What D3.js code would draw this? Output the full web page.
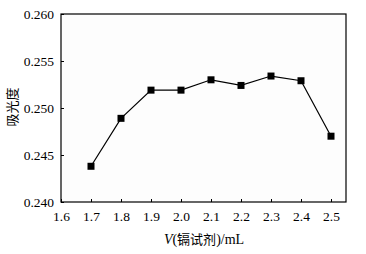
<!DOCTYPE html>
<html>
<head>
<meta charset="utf-8">
<script src="https://cdn.jsdelivr.net/npm/d3@7"></script>
<style>
  body { margin: 0; background: #fff; }
</style>
</head>
<body>
<div id="chart"></div>
<script>
// data
var volumes = [1.7, 1.8, 1.9, 2.0, 2.1, 2.2, 2.3, 2.4, 2.5];
var absorbance = [0.2438, 0.2489, 0.2519, 0.2519, 0.2530, 0.2524, 0.2534, 0.2529, 0.2470];
var xTicks = [1.6, 1.7, 1.8, 1.9, 2.0, 2.1, 2.2, 2.3, 2.4, 2.5];
var yTicks = [0.240, 0.245, 0.250, 0.255, 0.260];

var serif = "'Liberation Serif', 'Times New Roman', serif";
var cjk = "'Noto Sans CJK SC', sans-serif";

var width = 366, height = 254;
var margin = {top: 14, right: 20, bottom: 52, left: 61};
var w = width - margin.left - margin.right,
    h = height - margin.top - margin.bottom;

var svg = d3.select("#chart").append("svg")
  .attr("width", width)
  .attr("height", height);

var g = svg.append("g")
  .attr("transform", "translate(" + margin.left + "," + margin.top + ")");

var x = d3.scaleLinear().domain([1.6, 2.55]).range([0, w]);
var y = d3.scaleLinear().domain([0.240, 0.260]).range([h, 0]);

// frame
g.append("rect")
  .attr("width", w).attr("height", h)
  .attr("fill", "#fdfdfd").attr("stroke", "#000").attr("stroke-width", 1.2);

var xAxis = g.append("g")
  .attr("transform", "translate(0," + h + ")")
  .call(d3.axisBottom(x).tickValues(xTicks).tickFormat(d3.format(".1f")).tickSizeInner(-3).tickSizeOuter(0).tickPadding(9));
var yAxis = g.append("g")
  .call(d3.axisLeft(y).tickValues(yTicks).tickFormat(d3.format(".3f")).tickSizeInner(-3).tickSizeOuter(0).tickPadding(7));

[xAxis, yAxis].forEach(function(a) {
  a.select(".domain").remove();
  a.selectAll("line").attr("stroke", "#000");
  a.selectAll("text").style("font-size", "13.5px").style("font-family", serif).attr("fill", "#000");
});

// line + markers
var line = d3.line()
  .x(function(d, i) { return x(volumes[i]); })
  .y(function(d) { return y(d); });

g.append("path")
  .datum(absorbance)
  .attr("d", line)
  .attr("fill", "none")
  .attr("stroke", "#000")
  .attr("stroke-width", 1.2);

g.selectAll(".pt")
  .data(absorbance)
  .enter().append("rect")
  .attr("class", "pt")
  .attr("x", function(d, i) { return x(volumes[i]) - 3.5; })
  .attr("y", function(d) { return y(d) - 3.5; })
  .attr("width", 7).attr("height", 7)
  .attr("fill", "#000");

// axis titles
var xt = svg.append("text")
  .attr("x", 204)
  .attr("y", 244)
  .attr("text-anchor", "middle")
  .style("font-family", serif)
  .style("font-size", "14px");
xt.append("tspan").style("font-style", "italic").text("V");
xt.append("tspan").text("(");
xt.append("tspan").style("font-family", cjk).style("font-size", "13px").text("镉试剂");
xt.append("tspan").text(")/mL");

svg.append("text")
  .attr("transform", "translate(17,107) rotate(-90)")
  .attr("text-anchor", "middle")
  .style("font-family", cjk)
  .style("font-size", "13px")
  .text("吸光度");
</script>
</body>
</html>
